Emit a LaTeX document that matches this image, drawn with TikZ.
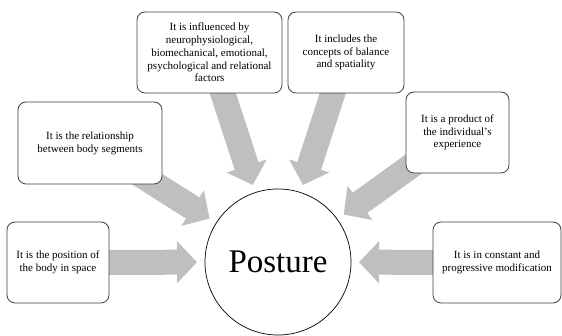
\documentclass[tikz,border=0pt]{standalone}
\usepackage{fontspec}
\setmainfont{Liberation Serif}
\usetikzlibrary{arrows.meta,calc,backgrounds}
\definecolor{arrowgray}{HTML}{BFBFBF}
\definecolor{boxline}{HTML}{404040}
\begin{document}
\begin{tikzpicture}[x=1pt,y=1pt,
  infobox/.style={draw=boxline,line width=0.8pt,rounded corners=8pt,fill=white,
    align=center,inner sep=2pt,font=\fontsize{11}{12.8}\selectfont},
  blockarrow/.style={draw=arrowgray,line width=25pt,
    -{Triangle[length=20pt,width=41pt]}},
]
\useasboundingbox (0,0) rectangle (562,336);
\node[circle,draw=black,line width=0.7pt,fill=white,minimum size=146pt,inner sep=0pt,
  font=\fontsize{33}{36}\selectfont] (P) at (278,74) {Posture};
\node[infobox,minimum width=145pt,minimum height=81pt] (b1) at (209.5,283.5)
  {It is influenced by\\neurophysiological,\\biomechanical, emotional,\\psychological and relational\\factors};
\node[infobox,minimum width=116pt,minimum height=81pt] (b2) at (346,283.5)
  {It includes the\\concepts of balance\\and spatiality};
\node[infobox,minimum width=144pt,minimum height=82pt] (b3) at (90,193)
  {It is the relationship\\between body segments};
\node[infobox,minimum width=103pt,minimum height=81pt] (b4) at (457.5,203.5)
  {It is a product of\\the individual's\\experience};
\node[infobox,minimum width=102pt,minimum height=81pt] (b5) at (58,73.5)
  {It is the position of\\the body in space};
\node[infobox,minimum width=128pt,minimum height=81pt] (b6) at (497,73.5)
  {It is in constant and\\progressive modification};
\begin{scope}[on background layer]
\foreach \b in {b1,b2,b3,b4,b5,b6}{
  \draw[blockarrow] (\b.center) -- ($(P.center)!81pt!(\b.center)$);
}
\end{scope}
\end{tikzpicture}
\end{document}
